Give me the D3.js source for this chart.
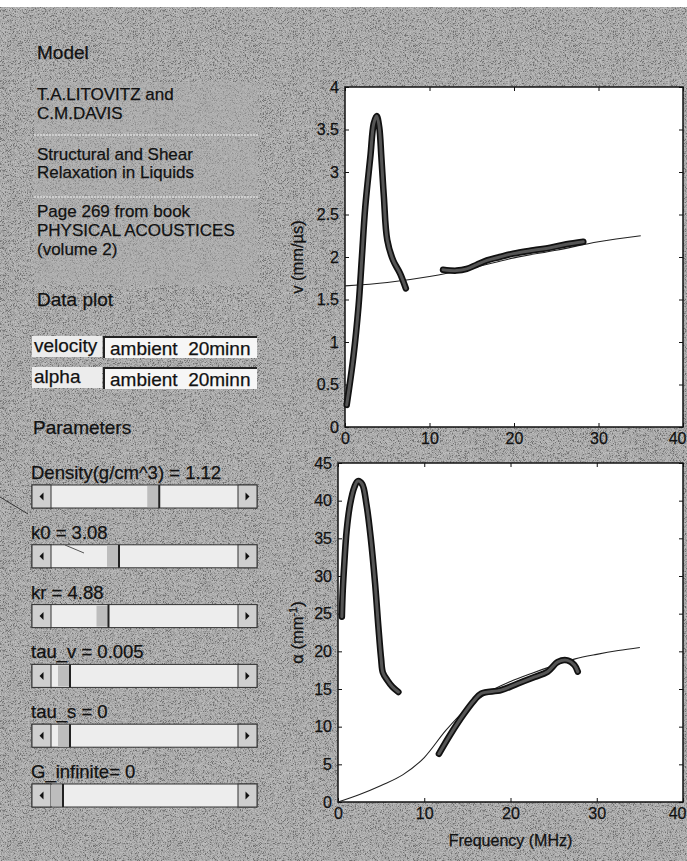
<!DOCTYPE html>
<html>
<head>
<meta charset="utf-8">
<script src="https://cdn.jsdelivr.net/npm/d3@7"></script>
<style>
body { margin: 0; background: #fff; }
svg text { font-family: "Liberation Sans", Arial, sans-serif; fill: #111; stroke: #111; stroke-width: 0.25px; }
</style>
</head>
<body>
<svg width="687" height="861"></svg>
<script>
// --- data ---
var xTicks = [0, 10, 20, 30, 40];
var vTicks = [0, 0.5, 1, 1.5, 2, 2.5, 3, 3.5, 4];
var aTicks = [0, 5, 10, 15, 20, 25, 30, 35, 40, 45];

// velocity, measured (two bands) and model
var velLowFreq  = [0.2, 1.0, 1.6, 2.0, 2.4, 3.0, 3.4, 3.75, 4.05, 4.3, 4.6, 5.0, 5.7, 6.5, 7.2];
var velLowVal   = [0.26, 0.83, 1.42, 2.0, 2.59, 3.18, 3.57, 3.66, 3.53, 3.18, 2.71, 2.2, 1.96, 1.81, 1.63];
var velHighFreq = [11.6, 13.2, 14.4, 15.6, 16.8, 18.3, 19.9, 22.3, 24.3, 26.2, 28.2];
var velHighVal  = [1.85, 1.84, 1.86, 1.91, 1.96, 2.0, 2.04, 2.08, 2.11, 2.15, 2.18];
var velModelFreq = [0, 5, 10, 15, 20, 25, 30, 35];
var velModelVal  = [1.66, 1.70, 1.77, 1.87, 1.99, 2.08, 2.18, 2.25];

// attenuation, measured (two bands) and model
var alphaLowFreq  = [0.45, 0.55, 0.75, 1.0, 1.4, 1.9, 2.3, 2.8, 3.3, 3.8, 4.3, 4.7, 5.0, 5.2, 5.7, 6.3, 7.0];
var alphaLowVal   = [24.6, 28, 32, 36, 39.5, 41.8, 42.6, 42.2, 39.5, 35, 29, 23, 19, 17.2, 16.2, 15.3, 14.6];
var alphaHighFreq = [11.7, 13.1, 14.6, 15.8, 16.6, 18.9, 20.8, 22.8, 24.3, 25.5, 26.6, 27.4, 27.8];
var alphaHighVal  = [6.4, 9.1, 11.7, 13.5, 14.4, 14.85, 15.7, 16.6, 17.3, 18.6, 18.8, 18.2, 17.3];
var alphaModelFreq = [0, 2.5, 5, 7.5, 10, 12.5, 15, 17.5, 20, 22.5, 25, 27.5, 30, 32.5, 35];
var alphaModelVal  = [0, 1.0, 2.2, 3.6, 5.9, 9.5, 12.5, 14.6, 16.0, 17.1, 18.1, 19.0, 19.6, 20.1, 20.5];

// left panel texts
var modelLines = [["T.A.LITOVITZ and", "C.M.DAVIS"],
                  ["Structural and Shear", "Relaxation in Liquids"],
                  ["Page 269 from book", "PHYSICAL ACOUSTICES", "(volume 2)"]];
var dataPlotNames = ["velocity", "alpha"];
var dataPlotChoice = ["ambient  20minn", "ambient  20minn"];
var sliderLabels = ["Density(g/cm^3) = 1.12", "k0 = 3.08", "kr = 4.88", "tau_v = 0.005", "tau_s = 0", "G_infinite= 0"];
var sliderPos = [0.55, 0.32, 0.26, 0.04, 0.04, 0.0];

function zip(xs, ys) {
    return xs.map(function (x, i) { return [x, ys[i]]; });
}

var svg = d3.select("svg");

// scanned grey page
var defs = svg.append("defs");
var grain = defs.append("filter").attr("id", "grain")
    .attr("x", 0).attr("y", 0).attr("width", "100%").attr("height", "100%");
grain.append("feTurbulence")
    .attr("type", "fractalNoise").attr("baseFrequency", 1.6)
    .attr("numOctaves", 1).attr("seed", 4);
grain.append("feColorMatrix").attr("type", "matrix")
    .attr("values", "3 0 0 0 -1  3 0 0 0 -1  3 0 0 0 -1  0 0 0 0 0.3");

svg.append("rect").attr("x", 0).attr("y", 7).attr("width", 687).attr("height", 854).attr("fill", "#a1a1a1");
svg.append("rect").attr("x", 0).attr("y", 7).attr("width", 687).attr("height", 854)
    .attr("filter", "url(#grain)");

// ---------- left panel ----------
var panel = svg.append("g");

panel.append("text").attr("x", 37).attr("y", 59).style("font-size", "19px").text("Model");

panel.append("rect")
    .attr("x", 34).attr("y", 82).attr("width", 224).attr("height", 203)
    .attr("fill", "#b0b0b0").attr("fill-opacity", 0.45);

var blockBase = [[100, 119], [160, 178], [217, 236, 255]];
modelLines.forEach(function (block, b) {
    block.forEach(function (line, i) {
        panel.append("text")
            .attr("x", 37).attr("y", blockBase[b][i])
            .style("font-size", "17px").text(line);
    });
});
[135, 197].forEach(function (y) {
    panel.append("line")
        .attr("x1", 34).attr("x2", 258).attr("y1", y).attr("y2", y)
        .attr("stroke", "#dcdcdc").attr("stroke-width", 1.5)
        .attr("stroke-dasharray", "2,1");
});

panel.append("text").attr("x", 37).attr("y", 306).style("font-size", "19px").text("Data plot");

dataPlotNames.forEach(function (name, i) {
    var top = 336 + i * 31;
    panel.append("rect").attr("x", 32).attr("y", top).attr("width", 70).attr("height", 21)
        .attr("fill", "#ececec");
    panel.append("text").attr("x", 34).attr("y", top + 16).style("font-size", "19px").text(name);
    panel.append("rect").attr("x", 103).attr("y", top).attr("width", 154).attr("height", 22)
        .attr("fill", "#f6f6f6");
    panel.append("path")
        .attr("d", "M104," + (top + 22) + "V" + (top + 1) + "H257")
        .attr("fill", "none").attr("stroke", "#222").attr("stroke-width", 2);
    panel.append("text").attr("x", 110).attr("y", top + 19).style("font-size", "19px")
        .style("white-space", "pre").text(dataPlotChoice[i]);
});

panel.append("text").attr("x", 33).attr("y", 434).style("font-size", "19px").text("Parameters");

var sx0 = 32, sw = 225, sh = 23, bw = 19;
sliderLabels.forEach(function (label, i) {
    var top = 485 + i * 59.8;
    var g = panel.append("g");
    g.append("text").attr("x", 31).attr("y", top - 6).style("font-size", "18.5px").text(label);
    g.append("rect").attr("x", sx0).attr("y", top).attr("width", sw).attr("height", sh)
        .attr("fill", "#ededed").attr("stroke", "#333").attr("stroke-width", 1);
    // arrow buttons
    [sx0, sx0 + sw - bw].forEach(function (bx, k) {
        g.append("rect").attr("x", bx).attr("y", top).attr("width", bw).attr("height", sh)
            .attr("fill", "#cfcfcf").attr("stroke", "#333").attr("stroke-width", 1);
        var cx = bx + bw / 2, cy = top + sh / 2;
        var d = k === 0
            ? "M" + (cx + 2) + "," + (cy - 4) + "L" + (cx - 2) + "," + cy + "L" + (cx + 2) + "," + (cy + 4) + "Z"
            : "M" + (cx - 2) + "," + (cy - 4) + "L" + (cx + 2) + "," + cy + "L" + (cx - 2) + "," + (cy + 4) + "Z";
        g.append("path").attr("d", d).attr("fill", "#111");
    });
    // thumb
    var tw = 12;
    var tx = sx0 + bw + sliderPos[i] * (sw - 2 * bw - tw);
    g.append("rect").attr("x", tx).attr("y", top + 1).attr("width", tw).attr("height", sh - 2)
        .attr("fill", "#bdbdbd");
    g.append("line").attr("x1", tx + tw).attr("x2", tx + tw).attr("y1", top).attr("y2", top + sh)
        .attr("stroke", "#222").attr("stroke-width", 2);
});

// pen marks on the scan
panel.append("line").attr("x1", 0).attr("y1", 497).attr("x2", 28).attr("y2", 514)
    .attr("stroke", "#333").attr("stroke-width", 1);
panel.append("line").attr("x1", 65).attr("y1", 545).attr("x2", 84).attr("y2", 553)
    .attr("stroke", "#555").attr("stroke-width", 1);

// ---------- plots ----------
function drawAxes(g, x, y, yTickVals) {
    var w = x.range()[1] - x.range()[0];
    var h = y.range()[0] - y.range()[1];
    var fmt = function (d) { return String(d); };

    g.append("rect")
        .attr("x", x.range()[0]).attr("y", y.range()[1])
        .attr("width", w).attr("height", h)
        .attr("fill", "#fff");

    var left = g.append("g").attr("transform", "translate(" + x.range()[0] + ",0)")
        .call(d3.axisLeft(y).tickValues(yTickVals).tickFormat(fmt)
            .tickSizeInner(-4).tickSizeOuter(0).tickPadding(6));
    var right = g.append("g").attr("transform", "translate(" + x.range()[1] + ",0)")
        .call(d3.axisRight(y).tickValues(yTickVals).tickFormat("")
            .tickSizeInner(-4).tickSizeOuter(0));
    var bottom = g.append("g").attr("transform", "translate(0," + y.range()[0] + ")")
        .call(d3.axisBottom(x).tickValues(xTicks).tickFormat(fmt)
            .tickSizeInner(-4).tickSizeOuter(0).tickPadding(6));
    var topAx = g.append("g").attr("transform", "translate(0," + y.range()[1] + ")")
        .call(d3.axisTop(x).tickValues(xTicks).tickFormat("")
            .tickSizeInner(-4).tickSizeOuter(0));

    [left, right, bottom, topAx].forEach(function (a) {
        a.select(".domain").remove();
        a.selectAll(".tick line").attr("stroke", "#111");
        a.selectAll("text").style("font-size", "16px").attr("fill", "#111")
            .style("font-family", "\"Liberation Sans\", Arial, sans-serif");
    });
    // last x label sits against the page edge
    bottom.selectAll(".tick text").filter(function (d) { return d === 40; })
        .attr("text-anchor", "end").attr("x", 686 - x(40));

    g.append("rect")
        .attr("x", x.range()[0]).attr("y", y.range()[1])
        .attr("width", w).attr("height", h)
        .attr("fill", "none").attr("stroke", "#111").attr("stroke-width", 1.5);
}

function drawMeasured(g, x, y, pts) {
    var line = d3.line().x(function (d) { return x(d[0]); }).y(function (d) { return y(d[1]); })
        .curve(d3.curveCatmullRom);
    g.append("path")
        .datum(pts)
        .attr("fill", "none")
        .attr("stroke", "#111").attr("stroke-width", 6.5)
        .attr("stroke-linecap", "round").attr("stroke-linejoin", "round")
        .attr("d", line);
    g.append("path")
        .datum(pts)
        .attr("fill", "none")
        .attr("stroke", "#555").attr("stroke-width", 3)
        .attr("stroke-linecap", "round").attr("stroke-linejoin", "round")
        .attr("d", line);
}

function drawModel(g, x, y, pts) {
    g.append("path")
        .datum(pts)
        .attr("fill", "none")
        .attr("stroke", "#222").attr("stroke-width", 1.1)
        .attr("d", d3.line().x(function (d) { return x(d[0]); }).y(function (d) { return y(d[1]); })
            .curve(d3.curveMonotoneX));
}

// velocity
var xV = d3.scaleLinear().domain([0, 40]).range([345, 683]);
var yV = d3.scaleLinear().domain([0, 4]).range([427, 87]);
var gV = svg.append("g");
drawAxes(gV, xV, yV, vTicks);
drawModel(gV, xV, yV, zip(velModelFreq, velModelVal));
drawMeasured(gV, xV, yV, zip(velLowFreq, velLowVal));
drawMeasured(gV, xV, yV, zip(velHighFreq, velHighVal));
gV.append("text")
    .attr("transform", "translate(303," + ((yV.range()[0] + yV.range()[1]) / 2) + ") rotate(-90)")
    .attr("text-anchor", "middle").style("font-size", "16.5px")
    .text("v (mm/\u00b5s)");

// attenuation
var xA = d3.scaleLinear().domain([0, 40]).range([338, 683]);
var yA = d3.scaleLinear().domain([0, 45]).range([802, 463]);
var gA = svg.append("g");
drawAxes(gA, xA, yA, aTicks);
drawModel(gA, xA, yA, zip(alphaModelFreq, alphaModelVal));
drawMeasured(gA, xA, yA, zip(alphaLowFreq, alphaLowVal));
drawMeasured(gA, xA, yA, zip(alphaHighFreq, alphaHighVal));
var aLab = gA.append("text")
    .attr("transform", "translate(303," + ((yA.range()[0] + yA.range()[1]) / 2) + ") rotate(-90)")
    .attr("text-anchor", "middle").style("font-size", "16.5px");
aLab.append("tspan").text("\u03b1 (mm");
aLab.append("tspan").attr("dy", -6).style("font-size", "11px").text("-1");
aLab.append("tspan").attr("dy", 6).text(")");

gA.append("text")
    .attr("x", (xA.range()[0] + xA.range()[1]) / 2).attr("y", 846)
    .attr("text-anchor", "middle").style("font-size", "16px")
    .text("Frequency (MHz)");
</script>
</body>
</html>
